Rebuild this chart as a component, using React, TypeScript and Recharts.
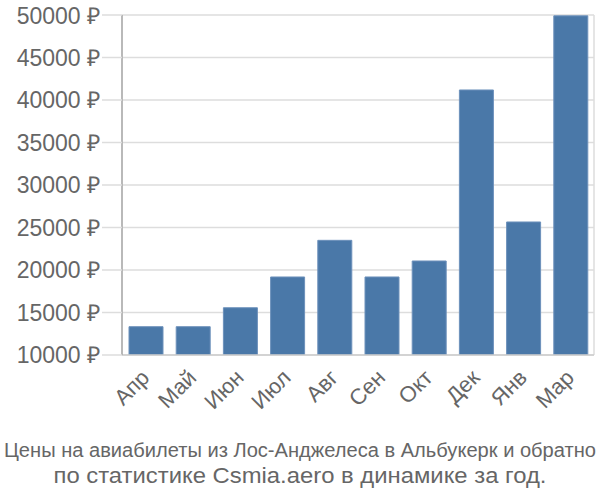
import React from 'react';
import { BarChart, Bar, XAxis, YAxis, CartesianGrid } from 'recharts';

const months = ['Апр', 'Май', 'Июн', 'Июл', 'Авг', 'Сен', 'Окт', 'Дек', 'Янв', 'Мар'];
const prices = [13330, 13330, 15560, 19180, 23490, 19180, 21060, 41180, 25650, 49900];
const yTicks = [10000, 15000, 20000, 25000, 30000, 35000, 40000, 45000, 50000];
const gridTicks = [0, 1, 2, 3, 4, 5, 6, 7, 8, 9, 10];
const titleLines = [
  'Цены на авиабилеты из Лос-Анджелеса в Альбукерк и обратно',
  'по статистике Csmia.aero в динамике за год.',
];
const titleWidths = [592, 493];
const titleSizes = [20, 22];

const data = months.map((m, i) => ({ month: m, price: prices[i], pos: i + 0.5 }));

const FONT = '"Liberation Sans", Arial, sans-serif';

const XTick = (props: any) => {
  const { x, y, payload } = props;
  return (
    <text
      x={0}
      y={0}
      textAnchor="end"
      transform={`translate(${x + 5},${y + 16}) rotate(-45)`}
      fill="#666"
      fontSize={22}
      fontFamily={FONT}
    >
      {payload.value}
    </text>
  );
};

export default function App() {
  return (
    <div style={{ position: 'absolute', left: 0, top: 0, width: 600, height: 500, background: '#fff' }}>
      <BarChart
        width={600}
        height={500}
        data={data}
        margin={{ top: 15, right: 6, left: 0, bottom: 0 }}
      >
        <CartesianGrid xAxisId="grid" stroke="#ddd" strokeWidth={1.5} />
        <XAxis
          xAxisId="grid"
          type="number"
          dataKey="pos"
          domain={[0, 10]}
          ticks={gridTicks}
          tick={false}
          tickSize={18}
          tickLine={{ stroke: '#ddd', strokeWidth: 1.5 }}
          axisLine={false}
          height={0}
          allowDataOverflow
        />
        <XAxis
          xAxisId="cat"
          dataKey="month"
          interval={0}
          tickLine={false}
          axisLine={{ stroke: '#ccc', strokeWidth: 1.5 }}
          tick={<XTick />}
          height={145}
        />
        <YAxis
          domain={[10000, 50000]}
          ticks={yTicks}
          width={122}
          tickSize={20}
          tickMargin={2}
          tickLine={{ stroke: '#ddd', strokeWidth: 1.5 }}
          axisLine={{ stroke: '#aaa', strokeWidth: 1.5 }}
          tickFormatter={(v: number) => `${v} ₽`}
          tick={{ fill: '#666', fontSize: 23, fontFamily: FONT }}
          allowDataOverflow
        />
        <Bar
          xAxisId="cat"
          dataKey="price"
          fill="#4a78a8"
          stroke="#6d91bb"
          strokeWidth={1}
          barSize={34}
          isAnimationActive={false}
        />
      </BarChart>
      <svg
        width={600}
        height={70}
        style={{ position: 'absolute', left: 0, top: 430 }}
      >
        {titleLines.map((t, i) => (
          <text
            key={t}
            x={300}
            y={27 + i * 26}
            textAnchor="middle"
            fill="#666"
            fontSize={titleSizes[i]}
            fontFamily={FONT}
            textLength={titleWidths[i]}
            lengthAdjust="spacingAndGlyphs"
          >
            {t}
          </text>
        ))}
      </svg>
    </div>
  );
}
